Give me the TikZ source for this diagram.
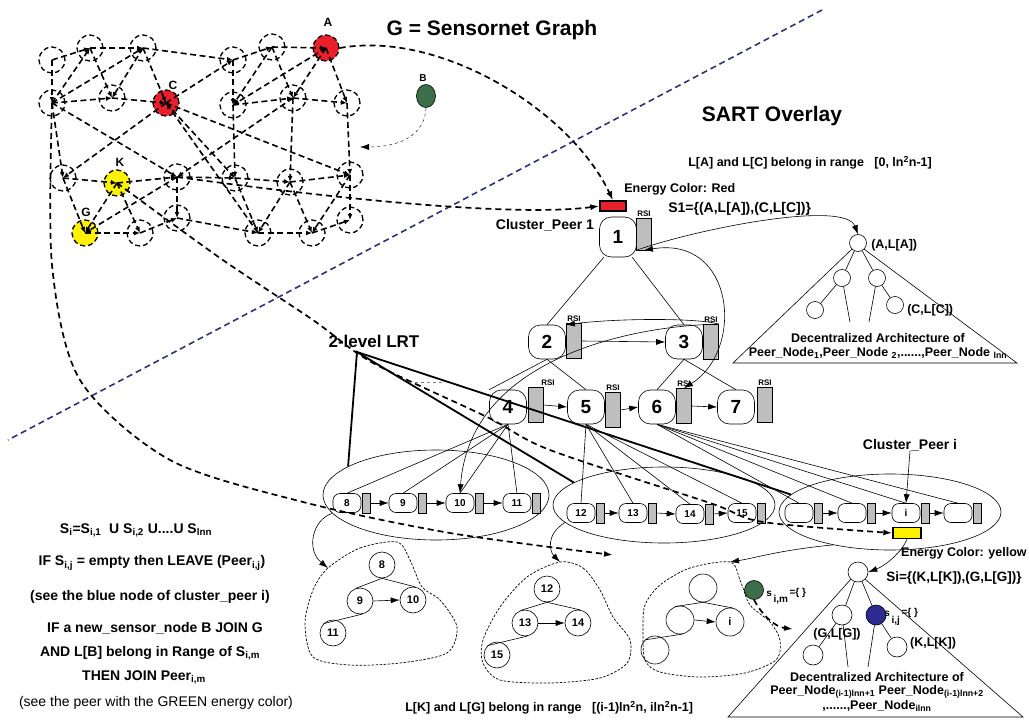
\documentclass[tikz,border=0pt]{standalone}
\usepackage{fontspec}
\setmainfont{Liberation Sans}
\usepackage{tikz}
\usetikzlibrary{calc,positioning,arrows.meta,shapes.geometric}
\definecolor{peerred}{HTML}{E8202A}
\definecolor{peeryel}{HTML}{FFF200}
\definecolor{peergrn}{HTML}{3D6E4A}
\definecolor{peerblu}{HTML}{2B2B92}
\definecolor{rsigray}{HTML}{BEBEBE}
\definecolor{splitline}{HTML}{2E3272}
\newcommand{\bfs}[1]{\fontsize{#1}{#1}\selectfont\bfseries}

\begin{document}
\begin{tikzpicture}[x=1pt,y=-1pt,line width=0.6pt,>={Latex[length=9pt,width=6pt]},
  sn/.style={circle,draw,dash pattern=on 5pt off 3pt,line width=1.3pt,minimum size=26pt,inner sep=0pt},
  sl/.style={-{Latex[length=6pt,width=5pt]},line width=1.6pt,dash pattern=on 6pt off 3.5pt},
  bigdash/.style={line width=1.7pt,dash pattern=on 6pt off 4pt},
  peer/.style={draw,fill=white,rounded corners=12pt,minimum width=37pt,minimum height=34pt,inner sep=0pt,font=\bfs{19}},
  rsi/.style={draw,fill=rsigray,minimum width=15pt,minimum height=35pt,inner sep=0pt},
  rsilab/.style={font=\bfs{8},inner sep=1pt,anchor=south},
  cp/.style={draw,fill=white,rounded corners=7pt,minimum width=28pt,minimum height=19pt,inner sep=0pt,font=\bfs{10}},
  crsi/.style={draw,fill=rsigray,minimum width=8pt,minimum height=20pt,inner sep=0pt},
  tn/.style={circle,draw,minimum size=26pt,inner sep=0pt,font=\bfs{11}},
  tt/.style={circle,draw,minimum size=17pt,inner sep=0pt},
  tu/.style={circle,draw,minimum size=20pt,inner sep=0pt},
  blob/.style={dash pattern=on 2.5pt off 1.5pt,line width=0.7pt},
  lrt/.style={line width=1.8pt},
  txt/.style={font=\bfs{12.5},inner sep=0pt}]
  \useasboundingbox (0,0) rectangle (1029,720);

  % split between graph and overlay
  \draw[splitline,line width=1.6pt,dash pattern=on 6pt off 4pt] (822,10) -- (8,440);

  % sensornet graph
  \foreach \n/\x/\y in {a1/52/60,a2/90/48,a3/143/48,a4/233/60,a5/272/47,
      b1/52/103,b2/112/98,b4/233/105,b5/293/98,b6/347/103,
      c1/63/178,c3/177/177,c4/235/178,c5/290/182,c6/350/175,
      d2/140/233,d3/177/218,d4/258/233,d5/312/233,d6/350/220}
    \node[sn] (\n) at (\x,\y) {};
  \node[sn,fill=peerred] (A) at (326,48) {};
  \node[sn,fill=peerred] (C) at (166,103) {};
  \node[sn,fill=peeryel] (K) at (117,183) {};
  \node[sn,fill=peeryel] (G) at (85,233) {};
  \foreach \s/\t in {a1/a2,a2/a3,a3/a4,a4/a5,a5/A,a1/b1,b1/a2,b1/a3,a2/b2,a3/b2,a3/C,b1/b2,b2/C,
      C/a4,a4/b4,a5/b4,A/b4,A/b5,A/b6,a5/b5,b4/b5,b5/b6,b1/c1,b1/c3,C/c1,C/c4,C/c6,d4/C,
      b5/c3,b4/c4,b5/c5,b6/c6,c1/K,K/c3,c3/c4,c4/c5,c5/c6,G/d2,d2/d3,d3/d4,d4/d5,d5/d6,
      c1/G,K/G,K/d2,c3/G,c3/d3,c4/d4,c5/d4,c5/d5,c6/d5,c6/d6}
    \draw[sl] (\s.center) -- (\t.center);
  \node[font=\bfs{12}] (labA) at (328,22) {A};
  \node[font=\bfs{12}] (labC) at (173,85) {C};
  \node[font=\bfs{12}] (labK) at (120,162) {K};
  \node[font=\bfs{12}] (labG) at (86,212) {G};
  \node[draw,ellipse,fill=peergrn,minimum width=19pt,minimum height=23pt,inner sep=0pt] (B) at (426,96) {};
  \node[font=\bfs{10}] (labB) at (423,78) {B};
  \coordinate (Bend) at (360,147);
  \draw[->,dashed,thin] (B.south) .. controls (425,135) and (400,147) .. (Bend);

  \node[font=\bfs{21},anchor=west] (title) at (383,30) {G = Sensornet Graph};
  \node[font=\bfs{21}] (sart) at (772,116) {SART Overlay};

  % cluster ellipses
  \node[draw,ellipse,minimum width=226pt,minimum height=90pt,inner sep=0pt] (e1) at (436,495) {};
  \node[draw,ellipse,minimum width=222pt,minimum height=76pt,inner sep=0pt] (e2) at (664,505) {};
  \node[draw,ellipse,minimum width=222pt,minimum height=76pt,inner sep=0pt] (e3) at (890,512) {};

  % SART peers
  \node[peer,minimum height=40pt] (n1) at (618,237) {1};
  \node[rsi,minimum height=32pt] (s1) at (644,234) {};
  \node[rsilab] (l1) at (s1.north) {RSI};
  \foreach \i/\px/\py/\qx/\qy/\dx in {2/547/342/574/341/0,3/684/342/711/342/0,4/508/407/536/405/12,
      5/586/407/613/410/0,6/657/407/684/406/0,7/736/407/765/405/0}{
    \node[peer] (n\i) at (\px,\py) {\i};
    \node[rsi] (s\i) at (\qx,\qy) {};
    \node[rsilab,xshift=\dx pt] (l\i) at (s\i.north) {RSI};
  }
  \draw (n1.-125) -- (n2.north);
  \draw (n1.-55) -- (n3.north);
  \draw (n2.south) -- (n4.north west);
  \draw (n2.south) -- (n5.north);
  \draw (n3.south) -- (n6.north);
  \draw (n3.south) -- (n7.north);
  \draw[->] (s2.east) -- (n3.west);
  \draw[->] (s4.east) -- (n5.west);
  \draw[->] (s5.east) -- (n6.west);
  \draw[->] (s6.east) -- (n7.west);
  \draw[<->] (s1.south) .. controls (735,235) and (745,350) .. (s6.north);
  \draw[->] (s3.north east) .. controls (700,318) and (620,318) .. (n2.north east);

  % cluster peers
  \foreach \i/\px/\py in {8/347/503,9/403/503,10/460/503,11/517/503,12/581/513,13/633/513,14/690/514,15/742/513}{
    \node[cp] (c\i) at (\px,\py) {\i};
    \node[crsi,right=0.5pt of c\i] (cr\i) {};
  }
  \foreach \i/\px/\lab in {1/799/,2/852/,i/906/i,4/958/}{
    \node[cp] (q\i) at (\px,513) {\lab};
    \node[crsi,right=0.5pt of q\i] (qr\i) {};
  }
  \foreach \a/\b in {8/9,9/10,10/11,12/13,13/14,14/15} \draw[->] (cr\a.east) -- (c\b.west);
  \foreach \a/\b in {1/2,2/i,i/4} \draw[->] (qr\a.east) -- (q\b.west);
  \foreach \t in {c8,c9,c10,c11} \draw (n4.south) -- (\t.north);
  \foreach \t in {c12,c13,c14,c15} \draw (n5.south) -- (\t.north);
  \foreach \t in {q1,q2,qi,q4} \draw (n6.south) -- (\t.north);
  \draw[->] (s3.north east) .. controls (640,325) and (470,355) .. (c10.north);

  % 2-level LRT
  \node[font=\bfs{17},anchor=west] (lrtlab) at (325,341) {2-level LRT};
  \coordinate (apex) at (357,352);
  \draw[lrt] (e1.162) -- (apex) -- (e2.166);
  \draw[lrt] (apex) -- (e3.170);
  \draw[gray,dashed,thin] (415,382) -- (442,382);

  % energy colour markers
  \node[draw,fill=peerred,line width=1.3pt,minimum width=26pt,minimum height=10pt,inner sep=0pt] (red) at (613,206) {};
  \node[draw,fill=peeryel,line width=1.3pt,minimum width=28pt,minimum height=11pt,inner sep=0pt] (ye) at (907,533) {};
  \node[txt,anchor=west] (rangeA) at (688,163) {L[A] and L[C] belong in range \ \ [0, ln\textsuperscript{2}n-1]};
  \node[txt,anchor=west] (ecred) at (624,189) {Energy Color: Red};
  \node[font=\bfs{14},anchor=west,inner sep=0pt] (s1txt) at (668,209) {S1=\{(A,L[A]),(C,L[C])\}};
  \node[font=\bfs{14},inner sep=0pt] (cp1) at (545,225) {Cluster\_Peer 1};
  \node[font=\bfs{14},inner sep=0pt] (cpi) at (910,445) {Cluster\_Peer i};
  \draw[->] (cpi.south) -- (qi.north);
  \node[txt,anchor=east] (ecyel) at (1027,553) {Energy Color: yellow};
  \node[font=\bfs{13.5},anchor=west,inner sep=0pt] (sitxt) at (886,578) {Si=\{(K,L[K]),(G,L[G])\}};

  % links from the graph
  \draw[->,bigdash] (A.east) .. controls (440,30) and (570,110) .. (red.north);
  \draw[->,bigdash] (c3.center) .. controls (420,210) and (540,214) .. (red.west);
  \draw[->,bigdash] plot[smooth] coordinates {(K.center) (220,258) (313,320) (373,363) (487,417) (550,450) (710,503) (763,522) (ye.west)};
  \coordinate (b1end) at (613,555);
  \draw[->,bigdash] plot[smooth] coordinates {(b1.center) (52,265) (80,380) (170,460) (303,502) (450,533) (b1end)};

  % tree of cluster peer 1
  \node[tt] (ta) at (858,243) {};
  \node[tt] (tb) at (842,278) {};
  \node[tt] (tc) at (877,278) {};
  \node[tt] (td) at (815,310) {};
  \node[tt] (te) at (895,305) {};
  \coordinate (tl1) at (733,363);
  \coordinate (tr1) at (1017,363);
  \coordinate (tf) at (850,322);
  \coordinate (tg) at (869,322);
  \draw (ta.south west) -- (tl1) -- (tr1) -- (ta.south east);
  \draw (ta) -- (tb) (ta) -- (tc) (tb) -- (td) (tc) -- (te) (tb) -- (tf) (tc) -- (tg);
  \draw[->] (s1.south west) .. controls (700,228) and (845,200) .. (ta.north);
  \node[txt,anchor=west] (tAla) at (871,245) {(A,L[A])};
  \node[txt,anchor=west] (tClb) at (907,310) {(C,L[C])};
  \node[txt] (dec1) at (878,338) {Decentralized Architecture of};
  \node[txt] (pn1) at (878,353) {Peer\_Node\textsubscript{1},Peer\_Node \textsubscript{2},......,Peer\_Node \textsubscript{lnn}};

  % local trees
  \coordinate (bl1) at (328,568);
  \coordinate (bl2) at (560,562);
  \coordinate (bl3) at (730,562);
  \draw[blob] plot[smooth cycle] coordinates {(bl1) (360,548) (397,542) (410,560) (422,587) (440,600) (457,627) (447,653) (400,663) (350,665) (313,657) (305,623) (313,590)};
  \draw[blob] plot[smooth cycle] coordinates {(bl2) (583,568) (600,590) (613,617) (630,640) (627,663) (600,678) (550,683) (500,680) (483,663) (483,640) (500,607) (527,577)};
  \draw[blob] plot[smooth cycle] coordinates {(bl3) (740,580) (750,605) (770,622) (780,640) (776,660) (745,673) (700,677) (660,672) (645,660) (643,630) (645,605) (660,585) (690,568)};
  \draw[->] (e1.190) .. controls (312,520) and (306,550) .. (bl1);
  \draw[->] (e2.190) .. controls (545,535) and (550,552) .. (bl2);
  \draw[->] (e3.210) .. controls (780,550) and (755,558) .. (bl3);

  \node[tn] (t8) at (382,565) {8};
  \node[tn] (t9) at (360,601) {9};
  \node[tn] (t10) at (413,600) {10};
  \node[tn] (t11) at (333,633) {11};
  \draw (t8.south) -- (t9.110) (t8.south) -- (t10.80) (t9.-80) -- (t11.135);
  \draw[->] (t9.east) -- (t10.west);
  \node[tn] (t12) at (547,589) {12};
  \node[tn] (t13) at (525,623) {13};
  \node[tn] (t14) at (578,623) {14};
  \node[tn] (t15) at (497,655) {15};
  \draw (t12.south) -- (t13.110) (t12.south) -- (t14.80) (t13.-80) -- (t15.135);
  \draw[->] (t13.east) -- (t14.west);
  \node[tn,minimum size=28pt] (u1) at (703,588) {};
  \node[tn,minimum size=28pt] (u2) at (680,620) {};
  \node[tn,minimum size=28pt] (ui) at (730,622) {i};
  \node[tn,minimum size=28pt] (u3) at (655,650) {};
  \draw (u1.south) -- (u2.110) (u1.south) -- (ui.80) (u2.-80) -- (u3.135);
  \draw[->] (u2.east) -- (ui.west);

  % joining node
  \node[circle,draw,fill=peergrn,minimum size=19pt,inner sep=0pt] (gn) at (754,590) {};
  \node[font=\bfs{10},anchor=west,inner sep=0pt] (sim) at (766,596) {s\,\raisebox{-6pt}{i,m}\,\raisebox{1pt}{=\{ \}}};
  \coordinate (gend) at (793,629);
  \draw[->,bigdash] (gn.south) .. controls (762,615) and (775,627) .. (gend);

  % tree of cluster peer i
  \node[tu] (ua) at (858,572) {};
  \node[tu] (ub) at (842,615) {};
  \node[tu,fill=peerblu] (uc) at (876,615) {};
  \node[tu] (ud) at (813,655) {};
  \node[tu] (ue) at (897,647) {};
  \coordinate (tl2) at (728,717);
  \coordinate (tr2) at (1023,717);
  \coordinate (uf) at (848,667);
  \coordinate (ug) at (868,667);
  \draw (ua.south west) -- (tl2) -- (tr2) -- (ua.south east);
  \draw (ua) -- (ub) (ua) -- (uc) (ub) -- (ud) (uc) -- (ue) (ub) -- (uf) (uc) -- (ug);
  \draw[->] (ye.south) .. controls (902,552) and (885,566) .. (ua.east);
  \node[font=\bfs{10},anchor=west,inner sep=0pt] (sij) at (884,617) {s\,\raisebox{-7pt}{i,j}\,\raisebox{1pt}{=\{ \}}};
  \node[txt] (tGlg) at (837,634) {(G,L[G])};
  \node[txt] (tKlk) at (933,643) {(K,L[K])};
  \node[txt] (dec2) at (877,677) {Decentralized Architecture of};
  \node[txt] (pn2) at (877,692) {Peer\_Node\textsubscript{(i-1)lnn+1} Peer\_Node\textsubscript{(i-1)lnn+2}};
  \node[txt] (pn3) at (877,706) {,......,Peer\_Node\textsubscript{ilnn}};

  % range and rules
  \node[txt,anchor=west] (rangeK) at (405,708) {L[K] and L[G] belong in range \ \ [(i-1)ln\textsuperscript{2}n, iln\textsuperscript{2}n-1]};
  \node[font=\bfs{14},inner sep=0pt] (rule1) at (136,530) {S\textsubscript{i}=S\textsubscript{i,1} \ U S\textsubscript{i,2} U....U S\textsubscript{lnn}};
  \node[font=\bfs{14},inner sep=0pt] (rule2) at (152,563) {IF S\textsubscript{i,j} = empty then LEAVE (Peer\textsubscript{i,j})};
  \node[font=\bfs{14},inner sep=0pt] (rule3) at (150,597) {(see the blue node of cluster\_peer i)};
  \node[font=\bfs{14},inner sep=0pt] (rule4) at (155,628) {IF a new\_sensor\_node B JOIN G};
  \node[font=\bfs{14},inner sep=0pt] (rule5) at (150,653) {AND L[B] belong in Range of S\textsubscript{i,m}};
  \node[font=\bfs{14},inner sep=0pt] (rule6) at (144,677) {THEN JOIN Peer\textsubscript{i,m}};
  \node[font=\fontsize{14}{14}\selectfont,inner sep=0pt] (rule7) at (156,703) {(see the peer with the GREEN energy color)};
\end{tikzpicture}
\end{document}
